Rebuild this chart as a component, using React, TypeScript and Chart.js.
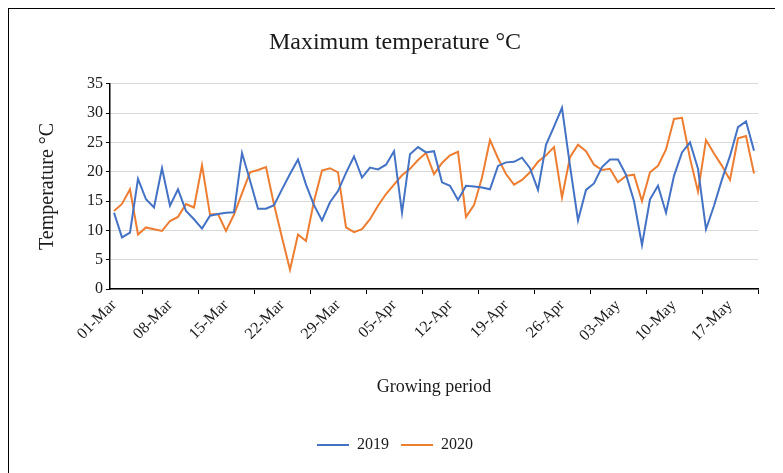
import React, { useEffect, useRef } from 'react';
import { Chart, registerables } from 'chart.js';

Chart.register(...registerables);

const dates = [
  '01-Mar','02-Mar','03-Mar','04-Mar','05-Mar','06-Mar','07-Mar','08-Mar','09-Mar','10-Mar',
  '11-Mar','12-Mar','13-Mar','14-Mar','15-Mar','16-Mar','17-Mar','18-Mar','19-Mar','20-Mar',
  '21-Mar','22-Mar','23-Mar','24-Mar','25-Mar','26-Mar','27-Mar','28-Mar','29-Mar','30-Mar',
  '31-Mar','01-Apr','02-Apr','03-Apr','04-Apr','05-Apr','06-Apr','07-Apr','08-Apr','09-Apr',
  '10-Apr','11-Apr','12-Apr','13-Apr','14-Apr','15-Apr','16-Apr','17-Apr','18-Apr','19-Apr',
  '20-Apr','21-Apr','22-Apr','23-Apr','24-Apr','25-Apr','26-Apr','27-Apr','28-Apr','29-Apr',
  '30-Apr','01-May','02-May','03-May','04-May','05-May','06-May','07-May','08-May','09-May',
  '10-May','11-May','12-May','13-May','14-May','15-May','16-May','17-May','18-May','19-May',
  '20-May'
];

const labelEvery = 7;

const temp2019 = [
  13.0, 8.8, 9.6, 18.8, 15.3, 13.9, 20.6, 14.2, 17.0, 13.3,
  11.9, 10.3, 12.5, 12.8, 13.0, 13.1, 23.2, 18.5, 13.7, 13.7,
  14.3, 17.0, 19.6, 22.1, 17.8, 14.3, 11.7, 14.8, 16.7, 19.8,
  22.6, 19.0, 20.7, 20.4, 21.2, 23.5, 13.0, 23.0, 24.2, 23.3,
  23.5, 18.2, 17.6, 15.2, 17.6, 17.5, 17.3, 17.0, 21.0, 21.6,
  21.7, 22.4, 20.6, 16.9, 24.6, 27.7, 30.9, 21.0, 11.7, 16.9,
  18.0, 20.8, 22.1, 22.1, 19.5, 15.0, 7.5, 15.3, 17.6, 13.0,
  19.3, 23.3, 25.0, 20.5, 10.2, 14.2, 18.7, 22.7, 27.6, 28.6,
  23.6
];

const temp2020 = [
  13.3, 14.5, 17.0, 9.3, 10.5, 10.2, 9.9, 11.6, 12.3, 14.5,
  13.9, 21.1, 12.7, 12.8, 9.9, 12.7, 16.3, 19.9, 20.3, 20.8,
  14.4, 8.8, 3.3, 9.3, 8.2, 15.0, 20.2, 20.6, 19.9, 10.5,
  9.7, 10.2, 11.9, 14.2, 16.2, 17.8, 19.4, 20.5, 22.0, 23.2,
  19.6, 21.5, 22.8, 23.4, 12.3, 14.3, 19.0, 25.4, 22.3, 19.6,
  17.8, 18.6, 19.9, 21.7, 22.8, 24.2, 15.6, 22.5, 24.6, 23.5,
  21.2, 20.3, 20.5, 18.2, 19.3, 19.5, 15.0, 19.9, 21.0, 23.8,
  29.0, 29.2, 22.3, 16.6, 25.4, 23.1, 21.0, 18.6, 25.7, 26.1,
  19.7
];

const yMin = 0;
const yMax = 35;
const yStep = 5;

const FONT = 'Liberation Serif, "Times New Roman", serif';
const TEXT = '#1a1a1a';

export default function App() {
  const ref = useRef<HTMLCanvasElement>(null);

  useEffect(() => {
    document.body.style.overflow = 'hidden';
    const chart = new Chart(ref.current as HTMLCanvasElement, {
      type: 'line',
      data: {
        labels: dates,
        datasets: [
          {
            label: '2019',
            data: temp2019,
            borderColor: '#4472C4',
            backgroundColor: '#4472C4',
            borderWidth: 2,
            pointRadius: 0,
            pointStyle: 'line',
            tension: 0,
          },
          {
            label: '2020',
            data: temp2020,
            borderColor: '#ED7D31',
            backgroundColor: '#ED7D31',
            borderWidth: 2,
            pointRadius: 0,
            pointStyle: 'line',
            tension: 0,
          },
        ],
      },
      options: {
        responsive: false,
        animation: false,
        layout: { padding: { left: 0, right: 0, top: 0, bottom: 16 } },
        plugins: {
          title: {
            display: true,
            text: 'Maximum temperature °C',
            font: { family: FONT, size: 24, weight: 'normal' },
            color: TEXT,
            padding: { top: 19, bottom: 27 },
          },
          legend: {
            position: 'bottom',
            labels: {
              usePointStyle: true,
              pointStyleWidth: 32,
              font: { family: FONT, size: 16 },
              color: TEXT,
              padding: 12,
            },
          },
          tooltip: { enabled: false },
        },
        scales: {
          x: {
            offset: true,
            grid: {
              offset: true,
              drawOnChartArea: false,
              drawTicks: true,
              tickLength: 5,
              color: '#000',
            },
            border: { color: '#000', width: 1.5 },
            ticks: {
              autoSkip: false,
              minRotation: 45,
              maxRotation: 45,
              padding: 2,
              font: { family: FONT, size: 16 },
              color: TEXT,
              callback: (_v: any, i: number) => (i % labelEvery === 0 ? dates[i] : null),
            },
            title: {
              display: true,
              text: 'Growing period',
              font: { family: FONT, size: 18 },
              color: TEXT,
              padding: { top: 4, bottom: 27 },
            },
            afterFit: (s: any) => {
              s.height = 136;
            },
          },
          y: {
            min: yMin,
            max: yMax,
            ticks: {
              stepSize: yStep,
              padding: 3,
              font: { family: FONT, size: 16 },
              color: TEXT,
            },
            grid: { color: '#d9d9d9', tickColor: '#000', tickLength: 4 },
            border: { color: '#000', width: 1.5 },
            title: {
              display: true,
              text: 'Temperature °C',
              font: { family: FONT, size: 20 },
              color: TEXT,
              padding: { top: 27, bottom: 0 },
            },
            afterFit: (s: any) => {
              s.width = 101;
            },
          },
          rightSpace: {
            type: 'linear',
            position: 'right',
            display: true,
            grid: { display: false, drawTicks: false },
            border: { display: false },
            ticks: { display: false },
            afterFit: (s: any) => {
              s.width = 23;
            },
          },
        },
      },
    } as any);
    return () => chart.destroy();
  }, []);

  return (
    <div
      style={{
        width: 772,
        height: 470,
        border: '1px solid #000',
        background: '#fff',
        overflow: 'hidden',
      }}
    >
      <canvas ref={ref} width={772} height={470} style={{ display: 'block' }} />
    </div>
  );
}
